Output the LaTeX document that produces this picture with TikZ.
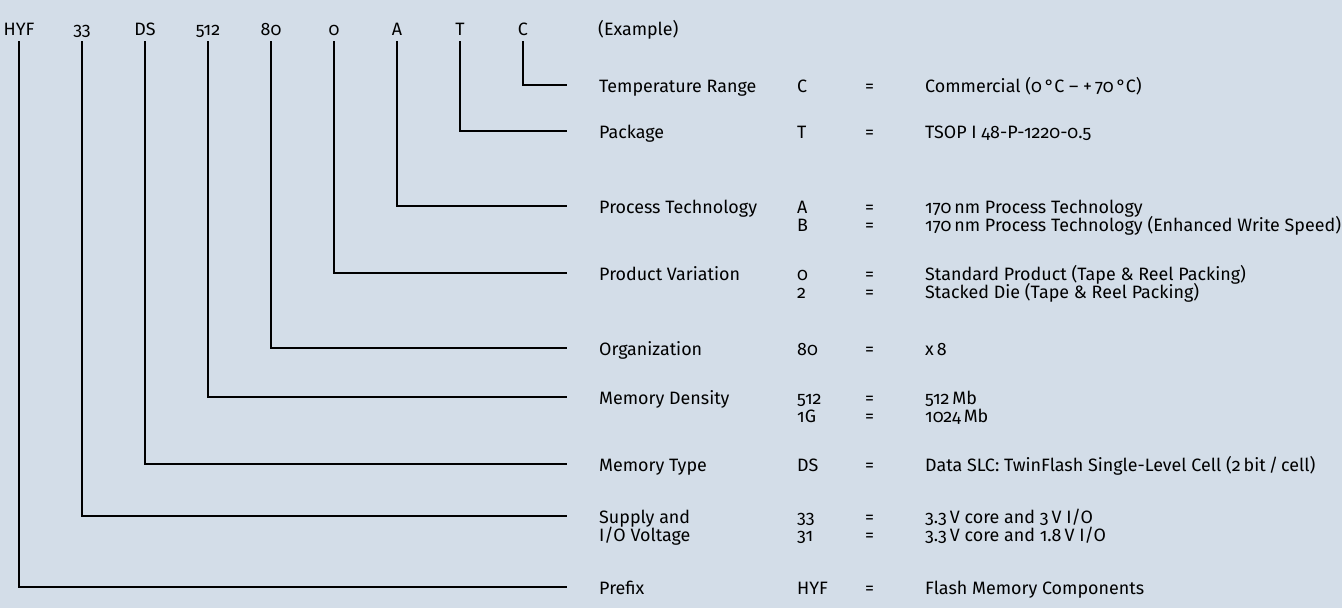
\documentclass[tikz,border=0pt]{standalone}
\usepackage{fontspec}
\setmainfont{Fira Sans}[Numbers=OldStyle]
\definecolor{bg}{HTML}{D3DDE8}
\newcommand{\rowfnt}{\fontsize{17.9}{18}\selectfont}
\tikzset{
  top/.style={inner sep=0pt, anchor=base, font=\rowfnt},
  txt/.style={inner sep=0pt, anchor=base west, font=\rowfnt},
  conn/.style={draw=black, line width=1.8pt, line cap=butt, line join=miter},
}
\begin{document}
\begin{tikzpicture}[x=1pt,y=-1pt]
\fill[bg] (0,0) rectangle (1342,608);
\useasboundingbox (0,0) rectangle (1342,608);
% top code letters
\node[top] (tHYF) at (19,35) {HYF};
\node[top] (t33) at (82,35) {33};
\node[top] (tDS) at (145,35) {DS};
\node[top] (t512) at (208,35) {512};
\node[top] (t80) at (271,35) {80};
\node[top] (t0) at (334,35) {0};
\node[top] (tA) at (397,35) {A};
\node[top] (tT) at (460,35) {T};
\node[top] (tC) at (523,35) {C};
\node[txt] (ex) at (598,35) {(Example)};
% line ends
\coordinate (eC) at (567,85);
\coordinate (eT) at (567,131);
\coordinate (eA) at (567,206);
\coordinate (e0) at (567,273);
\coordinate (e80) at (567,348);
\coordinate (e512) at (567,397);
\coordinate (eDS) at (567,464);
\coordinate (e33) at (567,516);
\coordinate (eHYF) at (567,587);
% rows: label, code, equals, description
\node[txt] (lC) at (599,92) {Temperature Range};
\node[txt] (cC) at (797,92) {C};
\node[txt] (qC) at (865,92) {=};
\node[txt] (dC) at (925,92) {Commercial (0\,°C -- +\,70\,°C)};

\node[txt] (lT) at (599,138) {Package};
\node[txt] (cT) at (797,138) {T};
\node[txt] (qT) at (865,138) {=};
\node[txt] (dT) at (925,138) {TSOP I 48-P-1220-0.5};

\node[txt] (lA) at (599,213) {Process Technology};
\node[txt] (cA) at (797,213) {A};
\node[txt] (qA) at (865,213) {=};
\node[txt] (dA) at (925,213) {170\,nm Process Technology};
\node[txt] (cB) at (797,231) {B};
\node[txt] (qB) at (865,231) {=};
\node[txt] (dB) at (925,231) {170\,nm Process Technology (Enhanced Write Speed)};

\node[txt] (l0) at (599,280) {Product Variation};
\node[txt] (c0) at (797,280) {0};
\node[txt] (q0) at (865,280) {=};
\node[txt] (d0) at (925,280) {Standard Product (Tape \& Reel Packing)};
\node[txt] (c2) at (797,298) {2};
\node[txt] (q2) at (865,298) {=};
\node[txt] (d2) at (925,298) {Stacked Die (Tape \& Reel Packing)};

\node[txt] (l80) at (599,355) {Organization};
\node[txt] (c80) at (797,355) {80};
\node[txt] (q80) at (865,355) {=};
\node[txt] (d80) at (925,355) {x\,8};

\node[txt] (l512) at (599,404) {Memory Density};
\node[txt] (c512) at (797,404) {512};
\node[txt] (q512) at (865,404) {=};
\node[txt] (d512) at (925,404) {512\,Mb};
\node[txt] (c1G) at (797,422) {1G};
\node[txt] (q1G) at (865,422) {=};
\node[txt] (d1G) at (925,422) {1024\,Mb};

\node[txt] (lDS) at (599,471) {Memory Type};
\node[txt] (cDS) at (797,471) {DS};
\node[txt] (qDS) at (865,471) {=};
\node[txt] (dDS) at (925,471) {Data SLC: TwinFlash Single-Level Cell (2\,bit\,/\,cell)};

\node[txt] (l33) at (599,523) {Supply and};
\node[txt] (l33b) at (599,541) {I/O Voltage};
\node[txt] (c33) at (797,523) {33};
\node[txt] (q33) at (865,523) {=};
\node[txt] (d33) at (925,523) {3.3\,V core and 3\,V I/O};
\node[txt] (c31) at (797,541) {31};
\node[txt] (q31) at (865,541) {=};
\node[txt] (d31) at (925,541) {3.3\,V core and 1.8\,V I/O};

\node[txt] (lHYF) at (599,594) {Prefix};
\node[txt] (cHYF) at (797,594) {HYF};
\node[txt] (qHYF) at (865,594) {=};
\node[txt] (dHYF) at (925,594) {Flash Memory Components};
% connectors
\draw[conn] ([yshift=-6pt]tC.base) |- (eC);
\draw[conn] ([yshift=-6pt]tT.base) |- (eT);
\draw[conn] ([yshift=-6pt]tA.base) |- (eA);
\draw[conn] ([yshift=-6pt]t0.base) |- (e0);
\draw[conn] ([yshift=-6pt]t80.base) |- (e80);
\draw[conn] ([yshift=-6pt]t512.base) |- (e512);
\draw[conn] ([yshift=-6pt]tDS.base) |- (eDS);
\draw[conn] ([yshift=-6pt]t33.base) |- (e33);
\draw[conn] ([yshift=-6pt]tHYF.base) |- (eHYF);
\end{tikzpicture}
\end{document}
